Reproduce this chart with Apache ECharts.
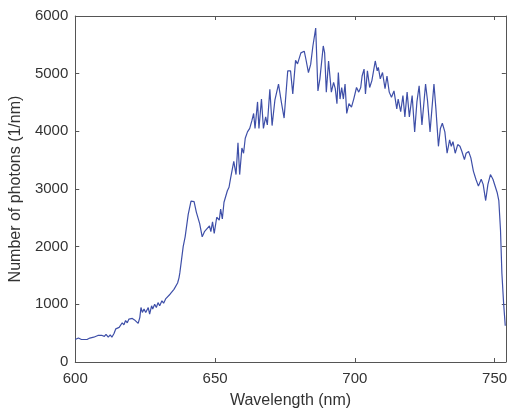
<!DOCTYPE html>
<html>
<head>
<meta charset="utf-8">
<script src="https://cdn.jsdelivr.net/npm/echarts@6/dist/echarts.min.js"></script>
<style>
html,body{margin:0;padding:0;background:#fff;}
#chart{width:510px;height:414px;}
</style>
</head>
<body>
<div id="chart"></div>
<script>
const wavelengths = [600.0,600.2,601.1,601.6,602.2,602.8,603.4,604.2,605.2,605.7,606.6,607.3,608.1,608.7,609.6,610.4,611.0,611.8,612.5,613.1,613.9,614.5,615.1,615.7,616.2,616.8,617.4,618.0,618.6,619.2,619.8,620.4,621.2,621.9,622.5,623.1,623.5,624.0,624.6,625.2,626.1,626.6,627.3,627.7,628.4,629.0,629.6,630.2,631.0,631.6,632.4,633.1,633.9,634.5,635.3,635.9,636.6,637.1,637.4,638.0,638.6,639.3,640.4,641.4,642.5,643.3,644.5,645.4,646.2,646.8,648.0,648.5,649.1,649.7,650.6,651.5,652.0,652.6,653.2,653.8,654.4,655.0,655.5,656.1,656.7,657.5,658.2,658.8,659.6,660.2,660.8,661.6,662.4,663.2,663.8,664.3,665.2,665.7,666.6,667.3,668.1,668.7,669.6,670.4,671.4,672.7,673.7,674.7,676.0,677.0,677.8,678.8,679.5,680.7,681.3,681.9,682.5,683.4,684.2,685.0,686.0,686.8,687.5,688.7,689.2,689.8,690.6,691.6,692.4,693.0,693.6,694.1,694.7,695.3,695.9,696.5,697.1,697.9,698.8,699.6,700.6,701.4,702.1,702.6,703.3,703.8,704.5,705.3,706.1,707.3,708.0,708.4,709.1,709.9,710.8,711.5,712.3,713.1,714.0,715.0,715.5,716.4,717.2,717.9,718.7,719.5,720.5,721.4,722.2,723.0,724.0,725.3,726.0,726.9,728.3,729.0,729.9,730.6,731.3,732.2,733.0,733.9,734.5,735.1,735.9,736.8,737.6,738.3,739.2,739.8,740.7,741.5,742.4,743.3,744.2,745.2,745.9,746.8,747.6,748.5,749.4,750.1,750.9,751.5,752.1,752.6,753.2,753.8];
const photons = [390,390,415,430,390,420,390,390,415,390,430,415,460,430,460,445,480,430,470,430,500,575,545,600,575,680,645,720,680,745,730,755,730,745,670,775,945,860,920,860,945,830,975,920,1000,945,1030,975,1060,1020,1100,1070,1175,1155,1260,1240,1370,1460,1545,1770,2000,2170,2560,2790,2780,2600,2400,2170,2260,2230,2360,2260,2430,2230,2510,2460,2650,2480,2770,2800,2970,3030,3170,3150,3480,3250,3800,3250,3710,3620,3880,3990,4050,4190,4310,4050,4510,4050,4560,4050,4250,4110,4730,4100,4540,4820,4510,4230,5050,5050,4650,5230,5170,5360,5330,5390,5250,5020,5160,5480,5790,4700,4910,5480,5360,4680,5220,4680,4850,4740,4480,5020,4560,4760,4560,4820,4310,4480,4420,4560,4760,4680,4760,4960,5080,4650,5050,4760,4880,5220,5050,5110,4910,5020,4740,4960,4680,4590,4700,4390,4560,4340,4620,4250,4680,4250,4620,3990,4510,4790,4110,4820,4530,3990,4820,4390,3740,4050,4140,3990,3620,3850,3740,3820,3620,3770,3740,3650,3510,3620,3650,3540,3310,3170,3050,3170,3080,2800,3080,3250,3170,3140,2940,2800,2290,1540,1030,630];
const xTicks = [600, 650, 700, 750];
const yTicks = [0, 1000, 2000, 3000, 4000, 5000, 6000];

const font = 'Liberation Sans, Arial, sans-serif';
const axisColor = '#555';
const textColor = '#333';

const chart = echarts.init(document.getElementById('chart'), null, {renderer: 'canvas'});
const frame = {
  axisLine: {show: true, onZero: false, lineStyle: {color: axisColor, width: 1}},
  axisTick: {show: true, inside: true, length: 4, lineStyle: {color: axisColor}},
  splitLine: {show: false}
};
chart.setOption({
  animation: false,
  backgroundColor: '#fff',
  grid: {left: 70, right: 1, top: 16, bottom: 47, containLabel: false},
  xAxis: [
    Object.assign({
      type: 'value', min: xTicks[0], max: 754, interval: 50, position: 'bottom',
      name: 'Wavelength (nm)', nameLocation: 'middle', nameGap: 31,
      nameTextStyle: {fontFamily: font, fontSize: 16, color: textColor},
      axisLabel: {fontFamily: font, fontSize: 15, color: textColor, margin: 9,
        showMaxLabel: false,
        formatter: v => xTicks.includes(v) ? String(v) : ''}
    }, frame),
    Object.assign({
      type: 'value', min: xTicks[0], max: 754, interval: 50, position: 'top',
      axisLabel: {show: false}
    }, frame)
  ],
  yAxis: [
    Object.assign({
      type: 'value', min: yTicks[0], max: yTicks[yTicks.length-1], interval: 1000, position: 'left',
      name: 'Number of photons (1/nm)', nameLocation: 'middle', nameGap: 46,
      nameTextStyle: {fontFamily: font, fontSize: 16, color: textColor},
      axisLabel: {fontFamily: font, fontSize: 15, color: textColor, margin: 7,
        formatter: v => String(v)}
    }, frame),
    Object.assign({
      type: 'value', min: yTicks[0], max: yTicks[yTicks.length-1], interval: 1000, position: 'right',
      axisLabel: {show: false}
    }, frame)
  ],
  series: [{
    type: 'line',
    data: wavelengths.map((w, i) => [w, photons[i]]),
    showSymbol: false,
    smooth: false,
    lineStyle: {color: '#3e4fa8', width: 1.2},
    clip: true
  }]
});
</script>
</body>
</html>
